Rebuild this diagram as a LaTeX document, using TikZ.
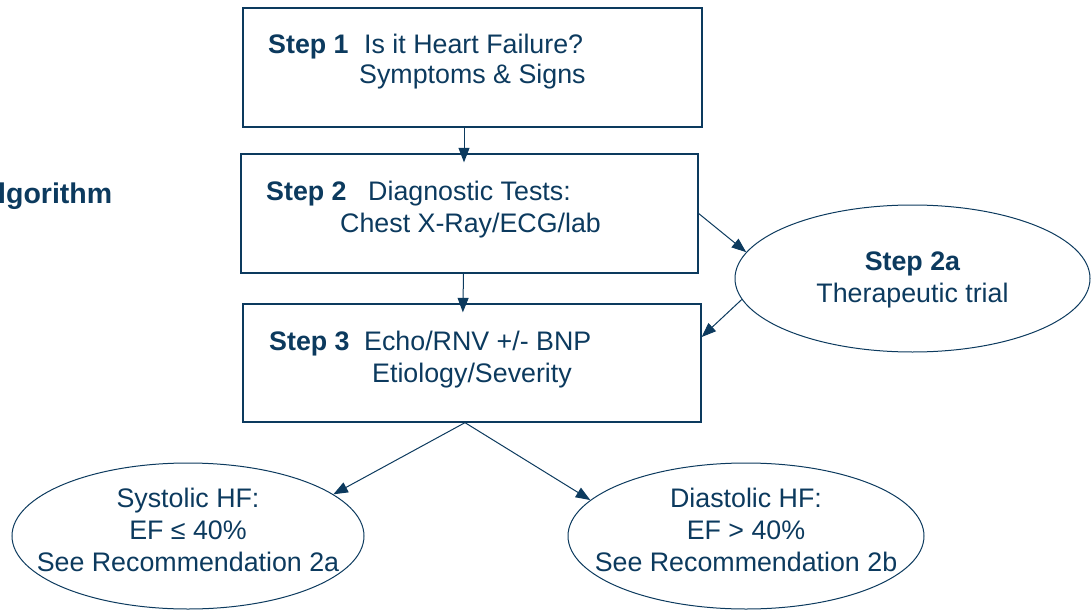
\documentclass[tikz,border=0pt]{standalone}
\usepackage{fontspec}
\setmainfont{Liberation Sans}
\usetikzlibrary{arrows.meta,shapes.geometric,calc}
\definecolor{navy}{HTML}{0C3A5E}
\begin{document}
\begin{tikzpicture}[x=1pt,y=-1pt,
  box/.style={draw=navy, line width=1.3pt, rectangle, inner sep=0pt},
  ell/.style={draw=navy, line width=1pt, ellipse, inner sep=0pt},
  txt/.style={text=navy, inner sep=0pt, font=\fontsize{26.8}{32}\selectfont},
  arr/.style={draw=navy, line width=1pt, -{Triangle[length=14.5pt,width=11pt]}},
]
\useasboundingbox (0,0) rectangle (1092,610);

% boxes and ellipses
\node[box, minimum width=459pt, minimum height=119pt] (s1) at (472.5,67.5) {};
\node[box, minimum width=457pt, minimum height=119pt] (s2) at (469.5,213.5) {};
\node[box, minimum width=458pt, minimum height=118pt] (s3) at (472,363) {};
\node[ell, minimum width=355pt, minimum height=147pt] (e2a) at (912.5,278.5) {};
\node[ell, minimum width=352pt, minimum height=146pt] (sys) at (188,536) {};
\node[ell, minimum width=356pt, minimum height=146pt] (dia) at (746,536) {};

% texts
\node[txt, anchor=base west, font=\fontsize{28.5}{32}\selectfont\bfseries] (ttl) at (-2,203) {lgorithm};
\node[txt, anchor=base west] (t1a) at (268,53) {\makebox[96pt][l]{\bfseries Step 1}Is it Heart Failure?};
\node[txt, anchor=base west] (t1b) at (359,84) {Symptoms \& Signs};
\node[txt, anchor=base west] (t2a) at (266,200) {\makebox[102pt][l]{\bfseries Step 2}Diagnostic Tests:};
\node[txt, anchor=base west] (t2b) at (340,232) {Chest X-Ray/ECG/lab};
\node[txt, anchor=base west] (t3a) at (269,350) {\makebox[95pt][l]{\bfseries Step 3}Echo/RNV +/- BNP};
\node[txt, anchor=base west] (t3b) at (372,382) {Etiology/Severity};
\node[txt, align=center] (t2atx) at ($(e2a)+(0,1.5)$) {\textbf{Step 2a}\\Therapeutic trial};
\node[txt, align=center] (tsys) at ($(sys)+(0,-6.4)$) {Systolic HF:\\EF ≤ 40\%\\See Recommendation 2a};
\node[txt, align=center] (tdia) at ($(dia)+(0,-6.4)$) {Diastolic HF:\\EF > 40\%\\See Recommendation 2b};

% connectors
\coordinate (a1) at ($(s1.south)+(-8.5,0)$);
\draw[arr, shorten >=-9pt] (a1) -- (a1 |- s2.north);
\coordinate (a2) at ($(s2.south)+(-6,0)$);
\coordinate (a2e) at ($(s3.north)+(-9,0)$);
\draw[arr, shorten >=-9pt] (a2) -- (a2e);
\draw[arr] (s2.east) -- (e2a.171);
\coordinate (a4e) at ($(s3.east)+(0,-26)$);
\draw[arr] (e2a.187) -- (a4e);
\coordinate (a3) at ($(s3.south)+(-7,0)$);
\draw[arr] (a3) -- (sys.16);
\draw[arr] (a3) -- (dia.167);
\end{tikzpicture}
\end{document}
